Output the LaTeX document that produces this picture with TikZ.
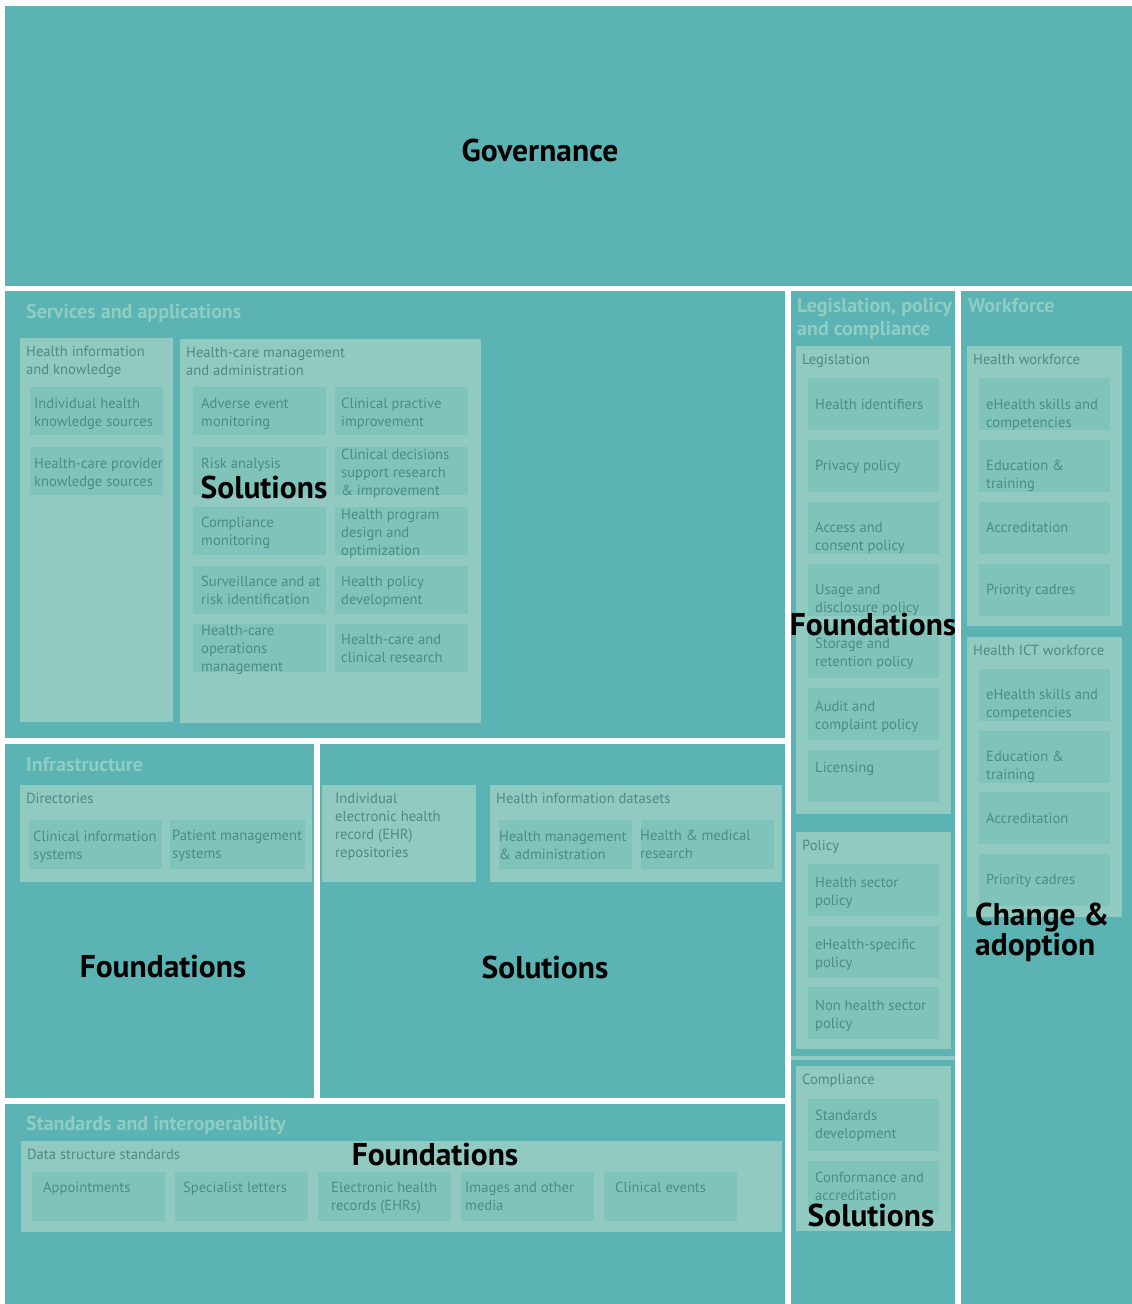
\documentclass[tikz,border=0pt]{standalone}
\usepackage{fontspec}
\setmainfont{PT Sans}
\usetikzlibrary{positioning}

\definecolor{sectteal}{HTML}{5BB3B3}
\definecolor{grpfill}{HTML}{90CAC0}
\definecolor{cellfill}{HTML}{80C3BA}
\definecolor{celltext}{HTML}{4C8C83}
\definecolor{headtext}{HTML}{8FCDC3}

% name, x, y, width, height, text dx, first line dy, text
\newcommand{\ehcell}[8]{%
  \node[cellbox, minimum width=#4, minimum height=#5] (#1) at (#2,#3) {};
  \node[celltxt] (#1-t) at ([shift={(#6,#7-5)}]#1.north west) {#8};}
% name, x, y, width, height, label
\newcommand{\ehgroup}[6]{%
  \node[grpbox, minimum width=#4, minimum height=#5] (#1) at (#2,#3) {};
  \node[celltxt] (#1-t) at ([shift={(6,8)}]#1.north west) {#6};}

\begin{document}
\begin{tikzpicture}[x=1pt,y=-1pt,
    sect/.style={fill=sectteal, anchor=north west, inner sep=0, outer sep=0},
    grpbox/.style={fill=grpfill, anchor=north west, inner sep=0, outer sep=0},
    cellbox/.style={fill=cellfill, anchor=north west, inner sep=0, outer sep=0},
    celltxt/.style={anchor=north west, inner sep=0, align=left, text=celltext,
      font=\fontsize{14.6}{18}\selectfont},
    sectitle/.style={anchor=north west, inner sep=0, align=left, text=headtext,
      font=\fontsize{20}{23}\selectfont\bfseries},
    bigword/.style={inner sep=0, align=left, font=\fontsize{31.5}{29}\selectfont\bfseries}]
  \fill[white] (0,0) rectangle (1132,1304);
  \useasboundingbox (0,0) rectangle (1132,1304);

  \node[sect, minimum width=1127, minimum height=280] (gov) at (5,6) {};
  \node[sect, minimum width=780, minimum height=447] (serv) at (5,291) {};
  \node[sect, minimum width=164, minimum height=1013] (legis) at (791,291) {};
  \node[sect, minimum width=171, minimum height=1013] (work) at (961,291) {};
  \node[sect, minimum width=309, minimum height=354] (infra) at (5,744) {};
  \node[sect, minimum width=465, minimum height=354] (sol) at (320,744) {};
  \node[sect, minimum width=780, minimum height=200] (stand) at (5,1104) {};
  \fill[grpfill] (791,1056) rectangle (955,1060);

  \node[sectitle] (serv-t) at (26,304) {Services and applications};
  \node[sectitle] (legis-t) at (797,298) {Legislation, policy\\and compliance};
  \node[sectitle] (work-t) at (968,298) {Workforce};
  \node[sectitle] (infra-t) at (26,757) {Infrastructure};
  \node[sectitle] (stand-t) at (26,1116) {Standards and interoperability};

  \ehgroup{hik}{20}{338}{153}{384}{Health information\\and knowledge}
  \ehgroup{hcm}{180}{339}{301}{384}{Health-care management\\and administration}
  \ehgroup{leg}{796}{346}{155}{468}{Legislation}
  \ehgroup{pol}{796}{832}{155}{217}{Policy}
  \ehgroup{comp}{796}{1066}{155}{165}{Compliance}
  \ehgroup{hwf}{967}{346}{155}{280}{Health workforce}
  \ehgroup{hict}{967}{637}{155}{280}{Health ICT workforce}
  \ehgroup{dir}{20}{785}{292}{97}{Directories}
  \ehgroup{hid}{490}{785}{292}{97}{Health information datasets}
  \ehgroup{dss}{21}{1141}{761}{91}{Data structure standards}
  \node[grpbox, minimum width=154, minimum height=97] (ehr) at (322,785) {};
  \node[celltxt] (ehr-t) at ([shift={(13,8)}]ehr.north west)
    {Individual\\electronic health\\record (EHR)\\repositories};

  \ehcell{ihk}{30}{387}{133}{48}{4}{16}{Individual health\\knowledge sources}
  \ehcell{hpk}{30}{447}{133}{48}{4}{16}{Health-care provider\\knowledge sources}

  \ehcell{aem}{193}{387}{133}{48}{8}{16}{Adverse event\\monitoring}
  \ehcell{cpi}{335}{387}{133}{48}{6}{16}{Clinical practive\\improvement}
  \ehcell{ras}{193}{447}{133}{48}{8}{16}{Risk analysis}
  \ehcell{cds}{335}{447}{133}{48}{6}{7}{Clinical decisions\\support research\\\& improvement}
  \ehcell{cmo}{193}{507}{133}{48}{8}{15}{Compliance\\monitoring}
  \ehcell{hpd}{335}{507}{133}{48}{6}{7}{Health program\\design and\\optimization}
  \ehcell{sar}{193}{566}{133}{48}{8}{15}{Surveillance and at\\risk identification}
  \ehcell{hpo}{335}{566}{133}{48}{6}{15}{Health policy\\development}
  \ehcell{hco}{193}{624}{133}{48}{8}{6}{Health-care\\operations\\management}
  \ehcell{hcr}{335}{624}{133}{48}{6}{15}{Health-care and\\clinical research}

  \ehcell{hidf}{808}{378}{131}{52}{7}{26}{Health identifiers}
  \ehcell{prv}{808}{440}{131}{52}{7}{25}{Privacy policy}
  \ehcell{acp}{808}{502}{131}{52}{7}{25}{Access and\\consent policy}
  \ehcell{udp}{808}{564}{131}{52}{7}{25}{Usage and\\disclosure policy}
  \ehcell{srp}{808}{626}{131}{52}{7}{17}{Storage and\\retention policy}
  \ehcell{acm}{808}{688}{131}{52}{7}{18}{Audit and\\complaint policy}
  \ehcell{lic}{808}{750}{131}{52}{7}{17}{Licensing}
  \ehcell{hsp}{808}{864}{131}{52}{7}{18}{Health sector\\policy}
  \ehcell{esp}{808}{926}{131}{52}{7}{18}{eHealth-specific\\policy}
  \ehcell{nhs}{808}{987}{131}{52}{7}{18}{Non health sector\\policy}
  \ehcell{sdv}{808}{1099}{131}{52}{7}{16}{Standards\\development}
  \ehcell{cfa}{808}{1161}{131}{52}{7}{16}{Conformance and\\accreditation}

  \ehcell{hw1}{979}{378}{131}{52}{7}{26}{eHealth skills and\\competencies}
  \ehcell{hw2}{979}{440}{131}{52}{7}{25}{Education \&\\training}
  \ehcell{hw3}{979}{502}{131}{52}{7}{25}{Accreditation}
  \ehcell{hw4}{979}{564}{131}{52}{7}{25}{Priority cadres}
  \ehcell{ict1}{979}{669}{131}{52}{7}{25}{eHealth skills and\\competencies}
  \ehcell{ict2}{979}{731}{131}{52}{7}{25}{Education \&\\training}
  \ehcell{ict3}{979}{792}{131}{52}{7}{26}{Accreditation}
  \ehcell{ict4}{979}{854}{131}{52}{7}{25}{Priority cadres}

  \ehcell{cis}{29}{820}{133}{49}{4}{16}{Clinical information\\systems}
  \ehcell{pms}{170}{820}{135}{49}{2}{15}{Patient management\\systems}
  \ehcell{hma}{499}{820}{133}{49}{0}{16}{Health management\\\& administration}
  \ehcell{hmr}{641}{820}{133}{49}{-1}{15}{Health \& medical\\research}

  \ehcell{app}{32}{1172}{133}{49}{11}{15}{Appointments}
  \ehcell{spl}{175}{1172}{133}{49}{8}{15}{Specialist letters}
  \ehcell{ehrs}{318}{1172}{133}{49}{13}{15}{Electronic health\\records (EHRs)}
  \ehcell{img}{461}{1172}{133}{49}{4}{15}{Images and other\\media}
  \ehcell{cle}{604}{1172}{133}{49}{11}{15}{Clinical events}

  \node[bigword] (gov-l) at (540,150) {Governance};
  \node[bigword] (serv-l) at (264,487) {Solutions};
  \node[bigword] (legis-l) at (873,625) {Foundations};
  \node[bigword] (infra-l) at (163,967) {Foundations};
  \node[bigword] (sol-l) at (545,967) {Solutions};
  \node[bigword] (stand-l) at (435,1155) {Foundations};
  \node[bigword] (comp-l) at (871,1215) {Solutions};
  \node[bigword, anchor=west] (work-l) at (975,932) {Change \&\\adoption};
\end{tikzpicture}
\end{document}
